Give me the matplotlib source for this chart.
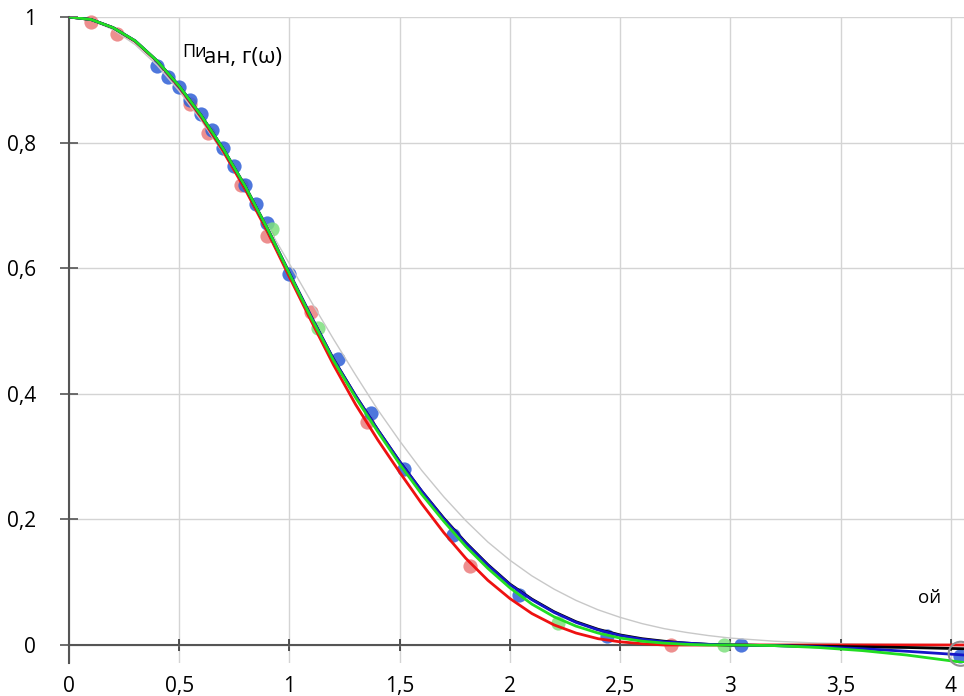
import matplotlib
matplotlib.use("Agg")
import matplotlib.pyplot as plt

plt.rcParams['font.family'] = ['Open Sans', 'DejaVu Sans']

# Curves r(ω)
omega = [0.0, 0.1, 0.2, 0.3, 0.4, 0.5, 0.6, 0.7, 0.8, 0.9, 1.0, 1.1, 1.2, 1.3, 1.4,
         1.5, 1.6, 1.7, 1.8, 1.9, 2.0, 2.1, 2.2, 2.3, 2.4, 2.5, 2.6, 2.7, 2.8, 2.9,
         3.0, 3.2, 3.4, 3.6, 3.8, 4.06]
r_gauss = [1.0, 0.995, 0.980, 0.956, 0.923, 0.882, 0.835, 0.783, 0.726, 0.667,
           0.607, 0.546, 0.487, 0.430, 0.375, 0.325, 0.278, 0.236, 0.198, 0.164,
           0.135, 0.110, 0.089, 0.071, 0.056, 0.044, 0.034, 0.026, 0.020, 0.015,
           0.011, 0.006, 0.003, 0.0015, 0.0007, 0.0003]
r_black = [1.0, 0.996, 0.983, 0.962, 0.930, 0.890, 0.843, 0.790, 0.730, 0.663,
           0.592, 0.522, 0.455, 0.397, 0.343, 0.292, 0.245, 0.202, 0.163, 0.128,
           0.097, 0.073, 0.053, 0.037, 0.025, 0.016, 0.010, 0.006, 0.003, 0.001,
           0.000, -0.001, -0.002, -0.003, -0.004, -0.006]
r_blue = [1.0, 0.996, 0.983, 0.962, 0.930, 0.890, 0.843, 0.790, 0.730, 0.663,
          0.592, 0.522, 0.455, 0.397, 0.343, 0.292, 0.245, 0.201, 0.162, 0.127,
          0.096, 0.072, 0.052, 0.036, 0.024, 0.015, 0.009, 0.005, 0.003, 0.001,
          0.000, -0.001, -0.003, -0.006, -0.010, -0.016]
r_green = [1.0, 0.996, 0.983, 0.962, 0.930, 0.890, 0.843, 0.790, 0.730, 0.663,
           0.591, 0.520, 0.453, 0.394, 0.340, 0.288, 0.240, 0.197, 0.157, 0.122,
           0.091, 0.065, 0.045, 0.030, 0.019, 0.011, 0.006, 0.003, 0.001, 0.000,
           0.000, -0.001, -0.004, -0.009, -0.016, -0.028]
r_red = [1.0, 0.996, 0.983, 0.961, 0.929, 0.888, 0.840, 0.786, 0.725, 0.658,
         0.586, 0.515, 0.446, 0.383, 0.327, 0.275, 0.225, 0.179, 0.138, 0.103,
         0.074, 0.050, 0.032, 0.019, 0.010, 0.005, 0.002, 0.000, 0.000, 0.000,
         0.000, 0.000, 0.000, 0.000, 0.000, 0.000]

# Sample points
red_x = [0.10, 0.22, 0.55, 0.63, 0.78, 0.90, 1.10, 1.35, 1.82, 2.73]
red_y = [0.992, 0.973, 0.862, 0.815, 0.733, 0.652, 0.530, 0.355, 0.125, 0.0]
blue_x = [0.40, 0.45, 0.50, 0.55, 0.60, 0.65, 0.70, 0.75, 0.80, 0.85, 0.90, 1.00,
          1.22, 1.37, 1.52, 1.74, 2.04, 2.44, 3.05, 4.04]
blue_y = [0.922, 0.905, 0.888, 0.868, 0.845, 0.820, 0.792, 0.763, 0.733, 0.703,
          0.672, 0.590, 0.455, 0.370, 0.280, 0.175, 0.080, 0.015, 0.0, -0.018]
green_x = [0.92, 1.13, 2.22, 2.97]
green_y = [0.662, 0.505, 0.035, 0.0]

xticks = [0, 0.5, 1, 1.5, 2, 2.5, 3, 3.5, 4]
xtick_labels = ['0', '0,5', '1', '1,5', '2', '2,5', '3', '3,5', '4']
yticks = [0, 0.2, 0.4, 0.6, 0.8, 1]
ytick_labels = ['0', '0,2', '0,4', '0,6', '0,8', '1']

W, H = 964, 696
fig = plt.figure(figsize=(W / 100, H / 100), dpi=100)
ax = fig.add_axes([69 / W, (H - 663) / H, (W - 69) / W, 646 / H])
ax.set_xlim(0, 4.06)
ax.set_ylim(-0.0287, 1.0)

ax.grid(True, color='#d4d4d4', lw=1.0, zorder=0)
ax.set_axisbelow(True)

for s in ['top', 'right']:
    ax.spines[s].set_visible(False)
ax.spines['bottom'].set_position(('data', 0))
ax.spines['bottom'].set_color('#555555')
ax.spines['left'].set_color('#555555')
ax.spines['bottom'].set_linewidth(1.5)
ax.spines['left'].set_linewidth(1.5)

ax.set_xticks(xticks)
ax.set_xticklabels(xtick_labels)
ax.set_yticks(yticks)
ax.set_yticklabels(ytick_labels)
ax.tick_params(axis='x', direction='inout', length=8, width=1.2, color='#333333',
               pad=18, labelsize=15)
ax.tick_params(axis='y', direction='inout', length=13, width=1.2, color='#555555',
               pad=17, labelsize=15)

ms = 105
ax.scatter(red_x, red_y, s=ms, color='#e86a6a', alpha=0.75, lw=0, zorder=3, clip_on=False)
ax.scatter(blue_x, blue_y, s=ms, color='#2f5fd6', alpha=0.85, lw=0, zorder=3, clip_on=False)
ax.scatter(green_x, green_y, s=ms, color='#7ee07e', alpha=0.85, lw=0, zorder=3, clip_on=False)
ax.scatter([4.045], [-0.014], s=300, facecolor='none', edgecolor='#909090', lw=1.5,
           zorder=6, clip_on=False)

ax.plot(omega, r_gauss, color='#c8c8c8', lw=1.0, zorder=4)
ax.plot(omega, r_red, color='#ee1111', lw=2.0, zorder=4)
ax.plot(omega, r_black, color='#000000', lw=2.0, zorder=4)
ax.plot(omega, r_blue, color='#1515c8', lw=2.0, zorder=4)
ax.plot(omega, r_green, color='#22dd22', lw=2.0, zorder=5)

fig.text(182 / W, 1 - 57 / H, 'Пи', fontsize=13, va='baseline', ha='left')
fig.text(204 / W, 1 - 63 / H, 'ан, г(ω)', fontsize=16, va='baseline', ha='left')
fig.text(918 / W, 1 - 603 / H, 'ой', fontsize=13.5, va='baseline', ha='left')

fig.savefig('out.png', dpi=100)
